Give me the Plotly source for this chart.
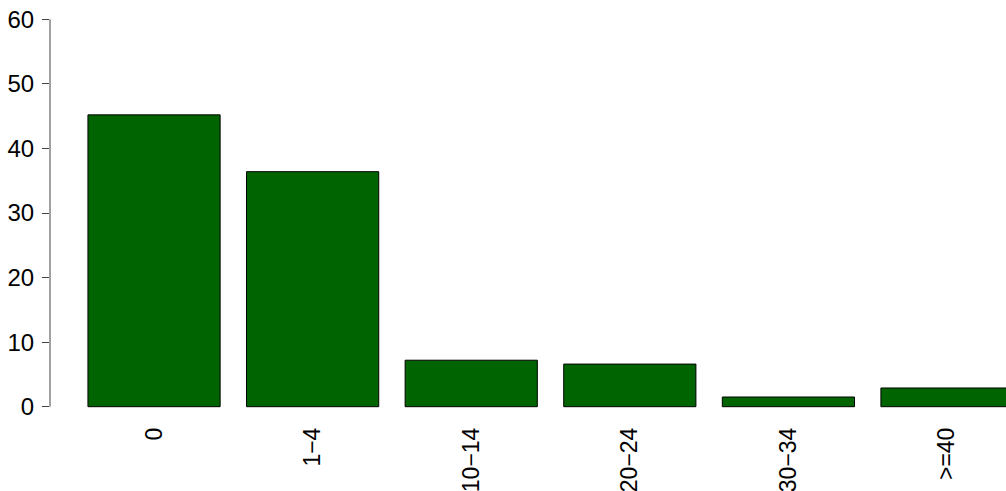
import plotly.graph_objects as go

# Share of respondents by category (percent)
categories = ["0", "1\u22124", "10\u221214", "20\u221224", "30\u221234", ">=40"]
values = [45.2, 36.4, 7.2, 6.6, 1.5, 2.9]
y_ticks = [0, 10, 20, 30, 40, 50, 60]

fig = go.Figure(
    go.Bar(
        x=categories,
        y=values,
        marker=dict(color="#006400", line=dict(color="#000000", width=1)),
    )
)

fig.update_layout(
    width=1006,
    height=491,
    margin=dict(l=50, r=0, t=4, b=69),
    paper_bgcolor="white",
    plot_bgcolor="white",
    bargap=0.1665,
    showlegend=False,
    font=dict(family="Liberation Sans, Arial, sans-serif", color="black"),
    xaxis=dict(
        type="category",
        range=[-0.656, 5.372],
        showgrid=False,
        zeroline=False,
        showline=False,
        ticks="",
        tickangle=-90,
        tickfont=dict(size=23),
    ),
    yaxis=dict(
        range=[-2.37, 62.37],
        tickvals=y_ticks,
        ticktext=[str(v) for v in y_ticks],
        showgrid=False,
        zeroline=False,
        showline=False,
        ticks="outside",
        ticklen=7,
        tickwidth=1,
        tickcolor="#444444",
        tickfont=dict(size=24),
        ticklabelstandoff=3,
    ),
)

# Axis line spans only the labelled tick range
fig.add_shape(
    type="line",
    xref="paper",
    yref="y",
    x0=0,
    x1=0,
    y0=y_ticks[0],
    y1=y_ticks[-1],
    line=dict(color="#444444", width=1),
)

fig.write_html("out.html")
